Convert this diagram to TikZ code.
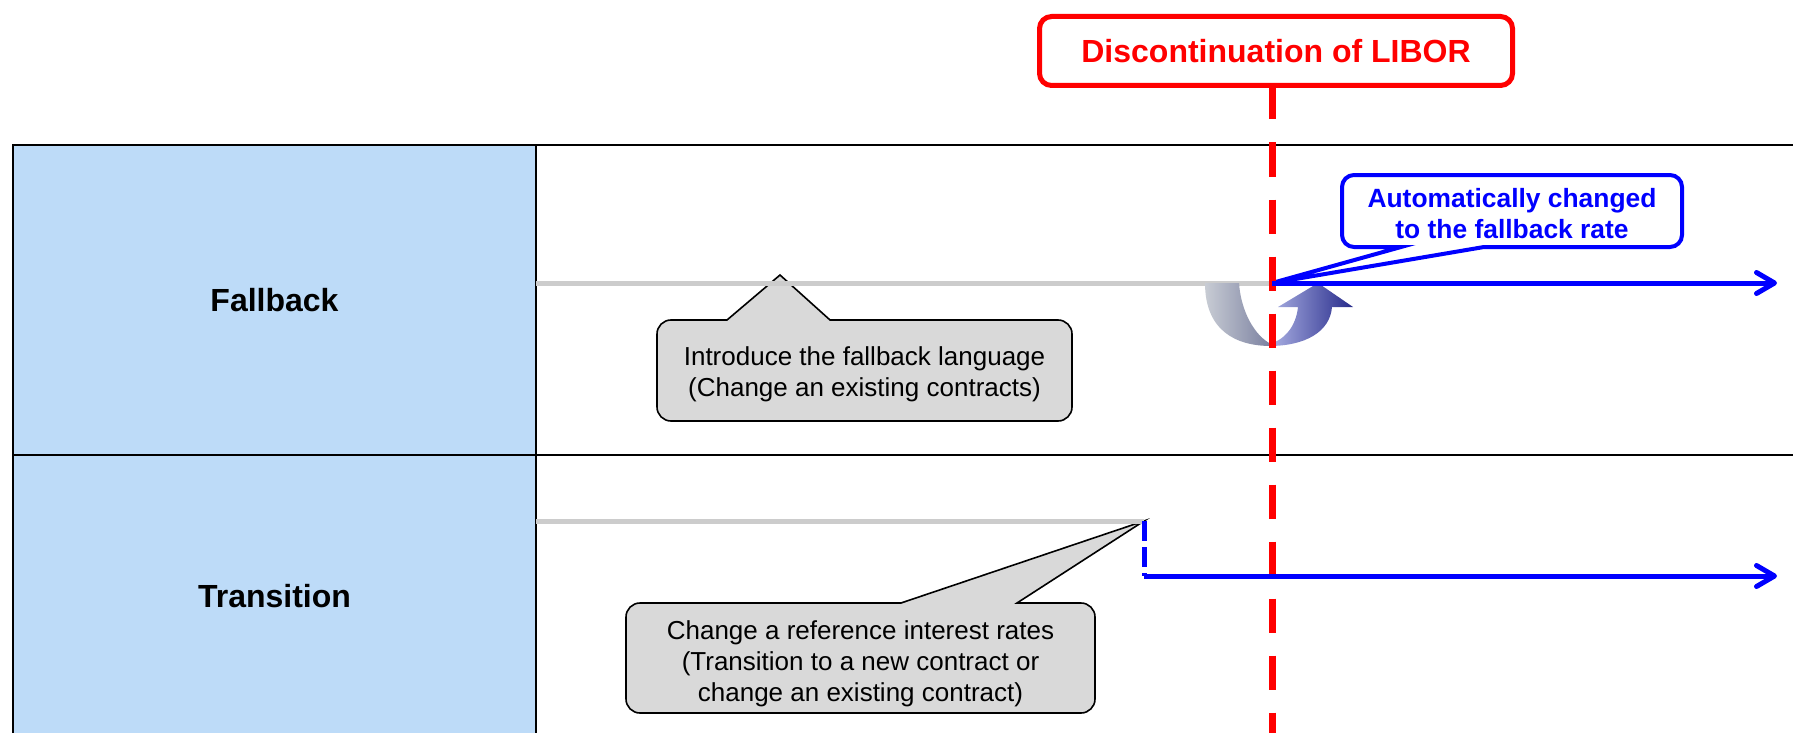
\documentclass[tikz,border=0pt]{standalone}
\usepackage{fontspec}
\setmainfont{Liberation Sans}
\usetikzlibrary{positioning,calc,arrows.meta,backgrounds}

\definecolor{cellblue}{RGB}{189,219,248}
\definecolor{notegray}{RGB}{217,217,217}
\definecolor{linegray}{RGB}{204,204,204}
\definecolor{ulight}{RGB}{200,204,212}
\definecolor{udark}{RGB}{122,128,160}
\definecolor{ulav}{RGB}{172,178,228}
\definecolor{unavy}{RGB}{38,42,138}

\begin{document}
\begin{tikzpicture}[
	x=0.5pt, y=-0.5pt,
	cell/.style={
		draw,
		line width=1.25pt,
		inner sep=0pt,
		outer sep=0pt,
		minimum width=261.5pt,
		font=\fontsize{16}{19}\selectfont\bfseries
	},
	zone/.style={
		draw,
		line width=1.25pt,
		inner sep=0pt,
		outer sep=0pt,
		minimum width=632pt
	},
	redbox/.style={
		draw=red,
		fill=white,
		line width=2.5pt,
		rounded corners=6pt,
		text=red,
		inner sep=0pt,
		outer sep=0pt,
		minimum width=236.5pt,
		minimum height=34.5pt,
		font=\fontsize{16}{19}\selectfont\bfseries
	},
	notebox/.style={
		inner sep=0pt,
		outer sep=0pt
	},
	notetext/.style={
		align=center,
		inner sep=0pt,
		outer sep=0pt,
		font=\fontsize{13}{15.5}\selectfont
	},
	bluetext/.style={
		notetext,
		text=blue,
		font=\fontsize{13.2}{15.5}\selectfont\bfseries
	},
	note/.style={
		draw=black,
		fill=notegray,
		line width=0.8pt
	},
	bluenote/.style={
		draw=blue,
		fill=white,
		line width=2pt
	},
	oldrate/.style={
		draw=linegray,
		line width=2.5pt
	},
	newrate/.style={
		draw=blue,
		line width=2.5pt
	},
	cutline/.style={
		draw=red,
		line width=3.5pt,
		dash pattern=on 17pt off 11.5pt
	},
	>={Straight Barb[length=9pt,width=10.5pt,line cap=round,line join=round]}
	]
	\useasboundingbox (0,0) rectangle (1793,733);

	\node[cell, fill=cellblue, minimum height=155pt] (fb) at (274.5,300) {Fallback};
	\node[cell, fill=cellblue, minimum height=141pt, below=0pt of fb] (tr) {Transition};
	\node[zone, minimum height=155pt, right=0pt of fb] (fbzone) {};
	\node[zone, minimum height=141pt, right=0pt of tr] (trzone) {};

	\coordinate (fbold) at (536,283);
	\coordinate (fbcut) at (1272,283);
	\coordinate (fbend) at (1777,283);
	\coordinate (introtip) at (780,275);
	\coordinate (trold) at (536,521);
	\coordinate (trcut) at (1144,521);
	\coordinate (trnew) at (1144,576);
	\coordinate (trend) at (1777,576);
	\coordinate (cut) at (1272,733);

	\node[notebox, minimum width=207.5pt, minimum height=50.5pt] (intro) at (864.5,370.5) {};
	\node[notebox, minimum width=234.5pt, minimum height=55pt] (rate) at (860.5,658) {};
	\node[notebox, minimum width=170pt, minimum height=36pt] (auto) at (1512,211) {};
	\node[notetext] (introtext) at ($(intro)+(0,3.5)$)
		{Introduce the fallback language\\(Change an existing contracts)};
	\node[notetext] (ratetext) at ($(rate)+(0,6)$)
		{Change a reference interest rates\\(Transition to a new contract or\\change an existing contract)};
	\node[bluetext] (autotext) at ($(auto)+(0,2.5)$)
		{Automatically changed\\to the fallback rate};

	\begin{scope}[on background layer]
		\draw[note] ($(intro.north west)+(173,0)$) [rounded corners=7pt] -- (intro.north east) -- (intro.south east)
			-- (intro.south west) -- (intro.north west) [sharp corners] -- ($(intro.north west)+(70,0)$) -- (introtip) -- cycle;
		\draw[note] ($(rate.north west)+(391,0)$) [rounded corners=7pt] -- (rate.north east) -- (rate.south east)
			-- (rate.south west) -- (rate.north west) [sharp corners] -- ($(rate.north west)+(275,0)$) -- (trcut) -- cycle;
		\draw[bluenote] ($(auto.south west)+(142,0)$) [rounded corners=6pt] -- (auto.south east) -- (auto.north east)
			-- (auto.north west) -- (auto.south west) [sharp corners] -- ($(auto.south west)+(59,0)$) -- (fbcut) -- cycle;
	\end{scope}

	\draw[oldrate] (fbold) -- (fbcut);
	\draw[oldrate] (trold) -- (trcut);

	\shade[left color=ulight, right color=udark]
		(1205,283) .. controls (1205,330) and (1235,346) .. (1271,346)
		-- (1271,344) .. controls (1255,336) and (1241,312) .. (1239,283) -- cycle;
	\shade[left color=ulav, right color=unavy]
		(1269,346) .. controls (1305,346) and (1330,332) .. (1332,307) -- (1353,307) -- (1318,283) -- (1278,307)
		-- (1298,307) .. controls (1296,326) and (1285,340) .. (1269,344) -- cycle;

	\node[redbox] (libor) at (1276,51) {Discontinuation of LIBOR};
	\draw[cutline] (libor.south -| cut) -- (cut);

	\draw[newrate, ->] (fbcut) -- (fbend);
	\draw[newrate, dash pattern=on 10pt off 3pt] (trcut) -- (trnew);
	\draw[newrate, ->] (trnew) -- (trend);
\end{tikzpicture}
\end{document}
